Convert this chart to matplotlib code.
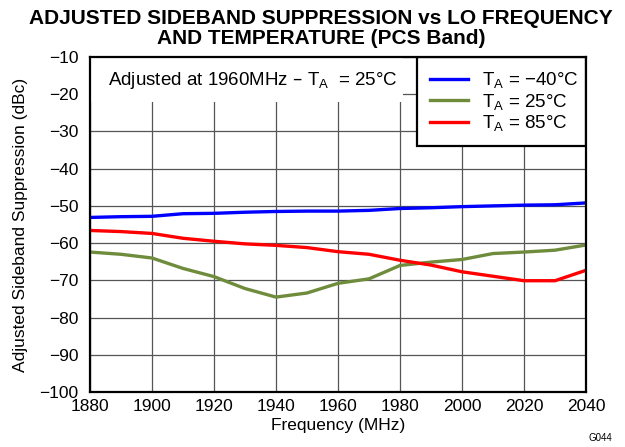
import matplotlib
matplotlib.use("Agg")
import matplotlib.pyplot as plt
from matplotlib.patches import Rectangle

plt.rcParams['font.family'] = ['Liberation Sans', 'DejaVu Sans']
plt.rcParams['mathtext.default'] = 'regular'

freq = [1880, 1890, 1900, 1910, 1920, 1930, 1940, 1950, 1960, 1970,
        1980, 1990, 2000, 2010, 2020, 2030, 2040]
t_m40 = [-53.1, -52.9, -52.8, -52.1, -52.0, -51.7, -51.5, -51.4, -51.4, -51.2,
         -50.7, -50.5, -50.2, -50.0, -49.8, -49.7, -49.2]
t_25 = [-62.4, -63.0, -64.0, -66.8, -69.0, -72.2, -74.5, -73.4, -70.8, -69.6,
        -66.0, -65.1, -64.4, -62.8, -62.4, -61.9, -60.5]
t_85 = [-56.6, -56.9, -57.4, -58.7, -59.5, -60.2, -60.6, -61.2, -62.3, -63.0,
        -64.6, -65.9, -67.7, -68.9, -70.1, -70.1, -67.3]
labels = ["T$_A$ = \u221240\u00b0C", "T$_A$ = 25\u00b0C", "T$_A$ = 85\u00b0C"]
colors = ["#0000FF", "#6F8C3C", "#FF0000"]

fig = plt.figure(figsize=(6.25, 4.47), dpi=100)
ax = fig.add_axes([0.144, 0.123, 0.7936, 0.7495])

for vals, lab, c in zip([t_m40, t_25, t_85], labels, colors):
    ax.plot(freq, vals, color=c, linewidth=2.4, label=lab, zorder=3)

ax.set_xlim(1880, 2040)
ax.set_ylim(-100, -10)
ax.set_xticks(range(1880, 2041, 20))
ax.set_yticks(range(-100, -9, 10))
ax.set_yticklabels(["\u2212%d" % abs(v) for v in range(-100, -9, 10)])
ax.grid(True, color="#555555", linewidth=0.9, zorder=1)
ax.set_axisbelow(True)
ax.tick_params(length=0, labelsize=12.5)
ax.tick_params(axis='y', pad=8.5)
ax.tick_params(axis='x', pad=5)
for s in ax.spines.values():
    s.set_linewidth(1.6)
    s.set_zorder(5)

# white area behind the note and the legend
ax.add_patch(Rectangle((0, 0.8667), 0.631, 0.1333, transform=ax.transAxes,
                       facecolor="white", edgecolor="none", zorder=2))
ax.add_patch(Rectangle((0.659, 0.734), 0.341, 0.266, transform=ax.transAxes,
                       facecolor="white", edgecolor="black", linewidth=1.6, zorder=4))
ax.text(0.036, 0.931, "Adjusted at 1960MHz \u2013 T$_A$  = 25\u00b0C", transform=ax.transAxes,
        fontsize=13.5, va="center", ha="left", zorder=6)

leg = ax.legend(loc="upper left", bbox_to_anchor=(0.66, 1.0), frameon=False,
                fontsize=13.5, handlelength=2.0, handletextpad=0.75, labelspacing=0.08,
                borderaxespad=0.3)
leg.set_zorder(6)

ax.set_xlabel("Frequency (MHz)", fontsize=12.5, labelpad=3)
ax.set_ylabel("Adjusted Sideband Suppression (dBc)", fontsize=12.5, labelpad=8)

fig.text(0.5136, 0.9463, "ADJUSTED SIDEBAND SUPPRESSION vs LO FREQUENCY",
         ha="center", va="baseline", fontsize=15, fontweight="bold")
fig.text(0.5136, 0.9016, "AND TEMPERATURE (PCS Band)",
         ha="center", va="baseline", fontsize=15, fontweight="bold")
fig.text(0.98, 0.01, "G044", ha="right", va="bottom", fontsize=7)

fig.savefig("out.png", dpi=100)
